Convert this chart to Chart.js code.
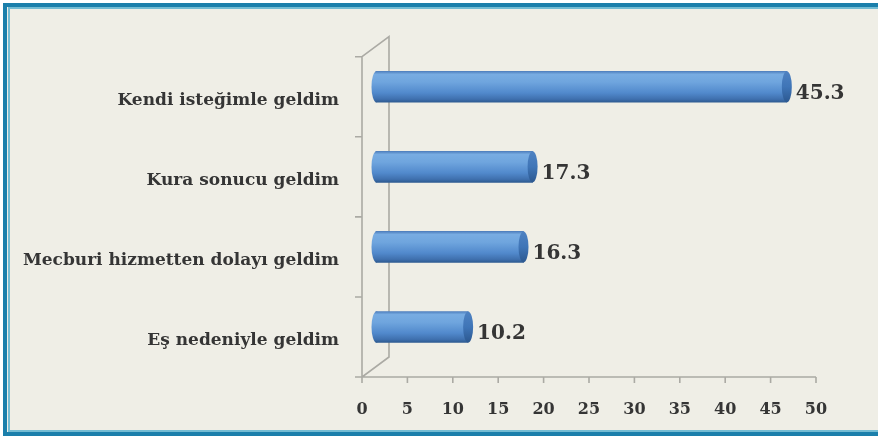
<!DOCTYPE html>
<html>
<head>
<meta charset="utf-8">
<script src="https://cdn.jsdelivr.net/npm/chart.js@4.4.1/dist/chart.umd.min.js"></script>
<style>
    html, body { margin: 0; padding: 0; background: #ffffff; }
    #wrap { position: relative; width: 878px; height: 436px; overflow: hidden; background: #ffffff; }
    #frame {
        position: absolute; left: 3px; top: 3px; width: 900px; height: 433px;
        box-sizing: border-box; border: 4px solid #1b7fab; background: #efeee6;
    }
    #inner {
        position: absolute; left: 8px; top: 7px; width: 900px; height: 425px;
        box-sizing: border-box; border: 2px solid #74bcd3; border-right: none;
    }
    canvas { position: absolute; left: 0; top: 0; }
</style>
</head>
<body>
<div id="wrap">
    <div id="frame"></div>
    <div id="inner"></div>
    <canvas id="chart" width="878" height="436"></canvas>
</div>
<script>
// ── Data ───────────────────────────────────────────────────────────────────
const categories = [
    'Kendi isteğimle geldim',
    'Kura sonucu geldim',
    'Mecburi hizmetten dolayı geldim',
    'Eş nedeniyle geldim',
];
const values = [45.3, 17.3, 16.3, 10.2];

const AXIS_MIN = 0;
const AXIS_MAX = 50;
const AXIS_STEP = 5;

// ── Look ───────────────────────────────────────────────────────────────────
const DEPTH_X = 27;     // 3D wall depth, px
const DEPTH_Y = 20;
const BAR_H = 31;
const CAP_RX = 5;
const LINE = '#abaaa4';
const TEXT = '#353535';
const FONT = "'DejaVu Serif', serif";

function bodyGradient(ctx, cy) {
    const g = ctx.createLinearGradient(0, cy - BAR_H / 2, 0, cy + BAR_H / 2);
    g.addColorStop(0.00, '#4f7fbe');
    g.addColorStop(0.10, '#78ace2');
    g.addColorStop(0.35, '#6fa5de');
    g.addColorStop(0.70, '#5189cc');
    g.addColorStop(0.90, '#3f70ae');
    g.addColorStop(1.00, '#2e5b92');
    return g;
}

function capGradient(ctx, cy) {
    const g = ctx.createLinearGradient(0, cy - BAR_H / 2, 0, cy + BAR_H / 2);
    g.addColorStop(0.00, '#4f82c2');
    g.addColorStop(0.50, '#3f75b7');
    g.addColorStop(1.00, '#2c5890');
    return g;
}

// ── 3D walls, floor, cylinder caps, value labels ───────────────────────────
const threeD = {
    id: 'threeD',
    beforeDatasetsDraw(chart) {
        const { ctx, chartArea: a, scales: { x, y } } = chart;
        const fx = a.left - DEPTH_X / 2, bx = a.left + DEPTH_X / 2;
        const fTop = a.top + DEPTH_Y / 2, fBot = a.bottom + DEPTH_Y / 2;
        const bTop = a.top - DEPTH_Y / 2, bBot = a.bottom - DEPTH_Y / 2;

        ctx.save();
        ctx.strokeStyle = LINE;
        ctx.lineWidth = 1.6;
        ctx.beginPath();
        // side wall outline
        ctx.moveTo(fx, fBot); ctx.lineTo(fx, fTop); ctx.lineTo(bx, bTop);
        ctx.lineTo(bx, bBot); ctx.lineTo(fx, fBot);
        // floor front edge
        ctx.lineTo(x.getPixelForValue(AXIS_MAX) - DEPTH_X / 2, fBot);
        // value ticks
        x.ticks.forEach(t => {
            const px = x.getPixelForValue(t.value) - DEPTH_X / 2;
            ctx.moveTo(px, fBot); ctx.lineTo(px, fBot + 6);
        });
        // category ticks
        for (let i = 0; i <= categories.length; i++) {
            const py = y.getPixelForValue(i - 0.5) + DEPTH_Y / 2;
            ctx.moveTo(fx, py); ctx.lineTo(fx - 7, py);
        }
        ctx.stroke();

        // back end of each cylinder, under the body
        const base = x.getPixelForValue(0);
        chart.getDatasetMeta(0).data.forEach(el => {
            ctx.fillStyle = bodyGradient(ctx, el.y);
            ctx.beginPath();
            ctx.ellipse(base + 1, el.y, CAP_RX, BAR_H / 2, 0, 0, Math.PI * 2);
            ctx.fill();
        });
        ctx.restore();
    },
    afterDatasetsDraw(chart) {
        const { ctx } = chart;
        ctx.save();
        chart.getDatasetMeta(0).data.forEach((el, i) => {
            // front end (right)
            ctx.fillStyle = capGradient(ctx, el.y);
            ctx.beginPath();
            ctx.ellipse(el.x, el.y, CAP_RX, BAR_H / 2, 0, 0, Math.PI * 2);
            ctx.fill();
            // value label
            ctx.fillStyle = TEXT;
            ctx.font = `bold 20px ${FONT}`;
            ctx.textAlign = 'left';
            ctx.textBaseline = 'middle';
            ctx.fillText(String(values[i]), el.x + CAP_RX + 4, el.y + 7);
        });
        ctx.restore();
    },
};

// ── Chart ──────────────────────────────────────────────────────────────────
new Chart(document.getElementById('chart'), {
    type: 'bar',
    data: {
        labels: categories,
        datasets: [{
            data: values,
            barThickness: BAR_H,
            borderWidth: 0,
            backgroundColor(c) {
                const y = c.chart.scales.y;
                if (!y || c.dataIndex === undefined) return '#5b8fd0';
                const cy = y.getPixelForValue(c.dataIndex);
                if (!Number.isFinite(cy)) return '#5b8fd0';
                return bodyGradient(c.chart.ctx, cy);
            },
        }],
    },
    options: {
        indexAxis: 'y',
        responsive: false,
        animation: false,
        layout: { padding: { top: 45, bottom: 9, left: 20, right: 48.5 } },
        plugins: {
            legend: { display: false },
            tooltip: { enabled: false },
        },
        scales: {
            x: {
                min: AXIS_MIN,
                max: AXIS_MAX,
                ticks: {
                    stepSize: AXIS_STEP,
                    labelOffset: -DEPTH_X / 2,
                    padding: 33,
                    color: TEXT,
                    font: { family: FONT, size: 16, weight: 'bold' },
                },
                grid: { display: false, drawTicks: false },
                border: { display: false },
                afterFit(s) { s.height = 60; },
            },
            y: {
                ticks: {
                    padding: 36.5,
                    labelOffset: 14,
                    color: TEXT,
                    font: { family: FONT, size: 17, weight: 'bold' },
                },
                grid: { display: false, drawTicks: false },
                border: { display: false },
                afterFit(s) { s.width = 355.5; },
            },
        },
    },
    plugins: [threeD],
});
</script>
</body>
</html>
